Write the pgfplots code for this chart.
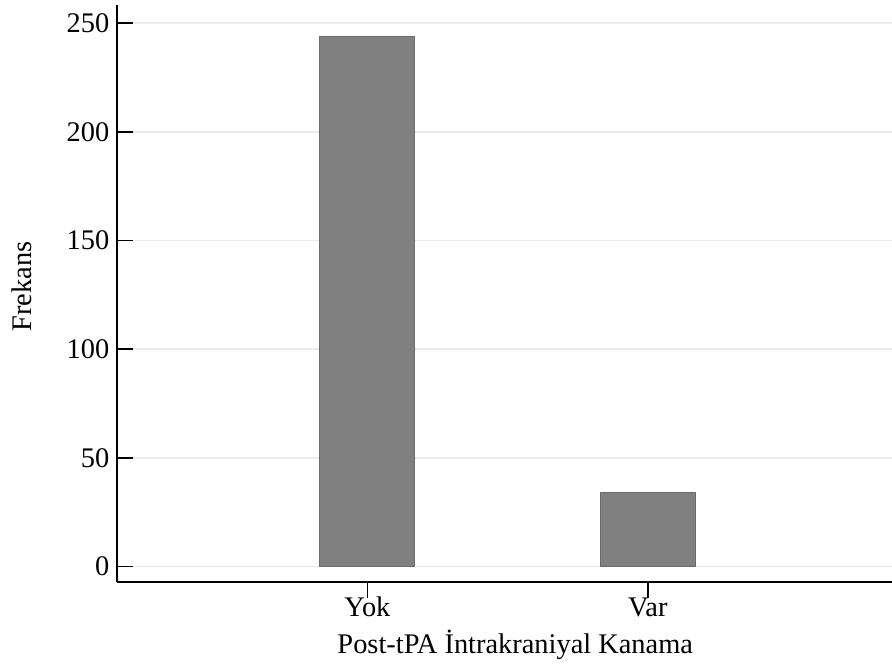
\documentclass[border=0pt]{standalone}
\usepackage{fontspec}
\setmainfont{Liberation Serif}
\usepackage{pgfplots}
\pgfplotsset{compat=1.18}
\begin{document}
\begin{tikzpicture}
\begin{axis}[
 scale only axis, width=775bp, height=577bp,
 xmin=-0.894, xmax=1.871, ymin=-7.2, ymax=258.4,
 axis lines*=left,
 axis line style={-, line width=1.6bp, black},
 xtick={0,1}, xticklabels={Yok,Var},
 ytick={0,50,100,150,200,250},
 xtick align=inside, ytick align=inside, major tick length=16bp,
 tick style={line width=1.5bp, black},
 ymajorgrids, grid style={line width=1.5bp, black!8},
 ticklabel style={font=\fontsize{28.5}{32}\selectfont},
 label style={font=\fontsize{28.5}{32}\selectfont},
 xticklabel style={anchor=base, yshift=-18bp},
 yticklabel style={xshift=-4bp},
 /pgf/number format/assume math mode=true,
 xlabel={Post-tPA İntrakraniyal Kanama}, ylabel={Frekans},
 xlabel style={at={(axis description cs:0.514,0)}, anchor=base, yshift=-71.3bp},
 ylabel style={at={(axis description cs:-0.122,0.512)}, anchor=center},
 ybar, bar width=95bp,
 clip=false,
]
\addplot[fill=black!50, draw=black!58, line width=1bp] coordinates {(0,244) (1,34)};
\end{axis}
\pgfresetboundingbox
\path ([shift={(-116.7bp,-84.3bp)}]current axis.south west) rectangle ([shift={(0bp,5bp)}]current axis.north east);
\end{tikzpicture}
\end{document}
